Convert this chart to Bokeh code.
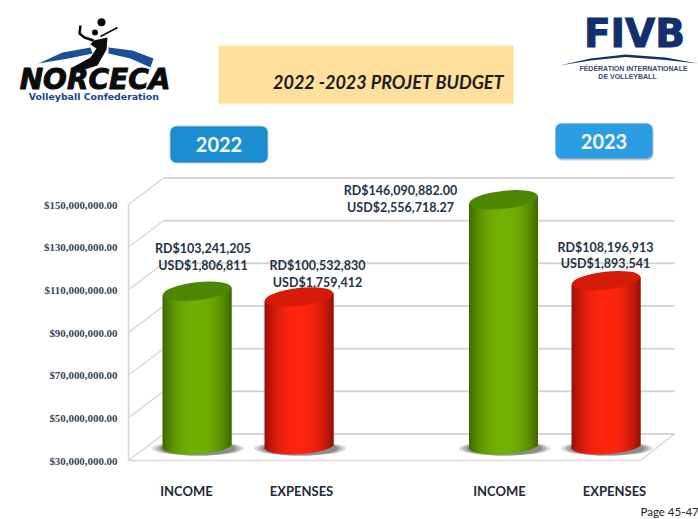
from bokeh.plotting import figure
from bokeh.embed import file_html
from bokeh.resources import INLINE
from bokeh.models import Range1d, LinearAxis, FixedTicker, NumeralTickFormatter, BoxAnnotation
from bokeh.core.properties import value
import math

categories = ["INCOME", "EXPENSES", "INCOME", "EXPENSES"]
amounts = [103241205, 100532830, 146090882, 108196913]
labels_rd = ["RD$103,241,205", "RD$100,532,830", "RD$146,090,882.00", "RD$108,196,913"]
labels_usd = ["USD$1,806,811", "USD$1,759,412", "USD$2,556,718.27", "USD$1,893,541"]
ticks = [30000000, 50000000, 70000000, 90000000, 110000000, 130000000, 150000000]
title = "2022 -2023 PROJET BUDGET"
years = ["2022", "2023"]

# layout (reference pixels)
W, H = 698, 519
X0, Y0 = 0, 0
px_per_dollar = (460 - 204) / 120e6
dollars = lambda px: px / px_per_dollar
y_low = 30e6 - dollars(Y0 + H - 460)
y_high = 30e6 + dollars(460 - Y0)
centers = [196.5, 298.5, 503, 605.5]
label_x = [202.5, 317, 400, 605]
label_y = [(248, 265), (265, 282), (190, 206.5), (246.5, 263)]
cat_x = [186, 301, 499, 614]
palette = [((62, 104, 0), (114, 176, 0), "#4f8600"), ((150, 16, 6), (255, 38, 16), "#d61b09")] * 2

p = figure(width=W, height=H, output_backend="svg", toolbar_location=None,
           x_range=Range1d(X0, X0 + W), y_range=Range1d(y_low, y_high),
           min_border=0, outline_line_color=None, x_axis_location=None, y_axis_location=None)
p.xgrid.visible = False
p.ygrid.visible = False
p.extra_y_ranges = {"px": Range1d(Y0 + H, Y0)}

# real value axis on the front edge of the chart box
axis = LinearAxis(fixed_location=128, ticker=FixedTicker(ticks=ticks),
                  formatter=NumeralTickFormatter(format="$0,0.00"),
                  major_tick_line_color=None, minor_tick_line_color=None,
                  axis_line_color="#d4d4d4", axis_line_width=1.5,
                  major_label_text_font="Liberation Serif", major_label_text_font_style="bold",
                  major_label_text_font_size="10.9px", major_label_text_color="#34465c",
                  major_label_standoff=5)
axis.bounds = (30000000, 150000000)
p.add_layout(axis, "left")

# walls and floor
dep = dollars(26.5)
GRID = "#d4d4d4"
p.multi_line([[128, 163] for _ in ticks], [[t, t + dep] for t in ticks], line_color=GRID, line_width=1.2)
p.multi_line([[163, 674] for _ in ticks], [[t + dep, t + dep] for t in ticks], line_color=GRID, line_width=2)
p.line([128, 640, 674], [30e6, 30e6, 30e6 + dep], line_color="#d9d9d9", line_width=1.5)

# cylinders
half, b, tilt, base_tilt = 34.5, 8.5, math.radians(6.5), math.radians(3.5)
mid = dollars(13)
lift = dollars(2)
for xc, v, (edge, core, cap) in zip(centers, amounts, palette):
    for w, a in ((92, 0.22), (84, 0.3), (76, 0.4)):
        p.ellipse([xc + 1], [30e6 + mid - dollars(1)], width=w, height=14, width_units="screen",
                  height_units="screen", angle=0, fill_color="#555555", fill_alpha=a, line_color=None)
    l, r, t, bo, col = [], [], [], [], []
    n = 69
    for i in range(n):
        dx0 = -half + i
        dxm = dx0 + 0.5
        u = dxm / half
        f = 1 - abs(u) ** 2.4
        c = tuple(int(edge[k] + (core[k] - edge[k]) * f) for k in range(3))
        l.append(xc + dx0)
        r.append(xc + dx0 + (2 if i < n - 1 else 1))
        t.append(v + mid + dollars(dxm * math.tan(tilt)))
        bo.append(30e6 + mid + lift + dollars(dxm * math.tan(base_tilt))
                  - dollars(b * math.sqrt(max(0.0, 1 - u * u))))
        col.append("#%02x%02x%02x" % c)
    p.quad(left=l, right=r, top=t, bottom=bo, fill_color=col, fill_alpha=1, line_color=None)
    p.ellipse([xc], [v + mid], width=69, height=18, width_units="screen", height_units="screen",
              angle=tilt, fill_color=cap, line_color=None)

overlay = dict(y_range_name="px", level="overlay")
FONT = value("Lato")

for x, (y1, y2), a, c in zip(label_x, label_y, labels_rd, labels_usd):
    p.text([x], [y1], text=[a], text_align="center", text_baseline="middle", text_font=FONT,
           text_font_size="12.5px", text_font_style="bold", text_color="#243447", **overlay)
    p.text([x], [y2], text=[c], text_align="center", text_baseline="middle", text_font=FONT,
           text_font_size="12.5px", text_font_style="bold", text_color="#243447", **overlay)
p.text(cat_x, [490] * 4, text=categories, text_align="center", text_baseline="middle", text_font=FONT,
       text_font_size="13px", text_font_style="bold", text_color="#1f2a38", **overlay)

# title and year plates
p.add_layout(BoxAnnotation(left=218, right=513, top=45, bottom=103, y_range_name="px",
                           fill_color="#fedf9c", fill_alpha=1, line_color=None))
p.text([388], [81], text=[title], text_align="center", text_baseline="middle", text_font=FONT,
       text_font_size="18px", text_font_style="bold italic", text_color="#1c1c1c", **overlay)
p.add_layout(BoxAnnotation(left=170, right=267, top=126, bottom=162, y_range_name="px", border_radius=6,
                           fill_color="#1b8dd2", fill_alpha=1, line_color="#14709f", line_width=2))
p.add_layout(BoxAnnotation(left=556, right=653, top=125, bottom=160, y_range_name="px", border_radius=6,
                           fill_color="#aebcc6", fill_alpha=0.7, line_color=None))
p.add_layout(BoxAnnotation(left=555, right=652, top=123, bottom=158, y_range_name="px", border_radius=6,
                           fill_color="#2b9de2", fill_alpha=1, line_color="#5c9cc4", line_width=1.5))
p.text([218.5, 603.5], [144, 141], text=years, text_align="center", text_baseline="middle", text_font=FONT,
       text_font_size="20px", text_font_style="bold", text_color="#f4f9fc", **overlay)

# NORCECA mark
NAVY = "#17468c"
p.patch([38, 62, 90, 92, 68], [63, 52, 47, 53, 58], fill_color="#1a4f9c", line_color=None, **overlay)
p.patch([108, 132, 153, 150, 130, 108], [47, 50, 58, 67, 58, 53], fill_color="#1a4f9c", line_color=None, **overlay)
p.patch([93, 107, 106, 101, 97, 81, 70, 90, 96, 90], [40, 37, 49, 58, 65, 70, 68, 57, 48, 44],
        fill_color="#0b0b0b", line_color=None, **overlay)
p.line([80, 79, 84, 93], [25, 33, 37, 40], line_color="#0b0b0b", line_width=2.5, **overlay)
p.line([100, 117], [36, 27], line_color="#0b0b0b", line_width=1.5, **overlay)
p.circle([101], [21.7], radius=4, radius_units="screen", fill_color="#0b0b0b", line_color=None, **overlay)
p.circle([94.5], [32], radius=3, radius_units="screen", fill_color="#0b0b0b", line_color=None, **overlay)
p.text([94.5], [79], text=["NORCECA"], text_align="center", text_baseline="middle", text_font=value("DejaVu Sans"),
       text_font_size="28px", text_font_style="bold italic", text_color="#0b0b0b",
       text_outline_color="#0b0b0b", **overlay)
p.text([95], [95.5], text=["Volleyball  Confederation"], text_align="center", text_baseline="middle",
       text_font=value("DejaVu Sans"), text_font_size="9.4px", text_font_style="bold", text_color=NAVY, **overlay)

# FIVB mark
FIVB = "#12306e"
p.text([634], [33], text=["FIVB"], text_align="center", text_baseline="middle", text_font=value("DejaVu Sans"),
       text_font_size="39px", text_font_style="bold", text_color=FIVB, text_outline_color=FIVB, **overlay)
p.patch([559, 590, 625, 665, 698, 665, 625, 590], [65, 58, 54, 57, 63, 59.5, 56.5, 60],
        fill_color=FIVB, line_color=None, **overlay)
p.text([633, 627], [68, 76], text=["FÉDÉRATION INTERNATIONALE", "DE VOLLEYBALL"], text_align="center",
       text_baseline="middle", text_font=value("Liberation Sans"), text_font_size="7px", text_font_style="bold",
       text_color="#3b4a6b", **overlay)

p.text([640], [511], text=["Page 45-47"], text_align="left", text_baseline="middle", text_font=value("Lato"),
       text_font_size="11.5px", text_color="#222222", **overlay)

open("out.html", "w").write(file_html(p, INLINE))
